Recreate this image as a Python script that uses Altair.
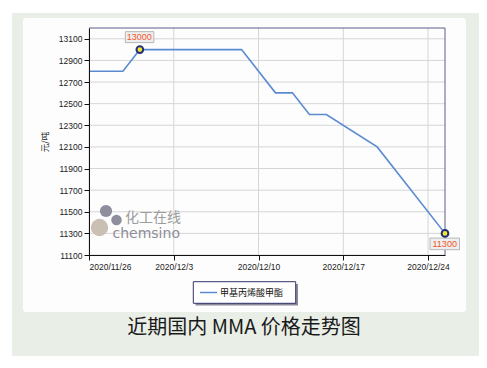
import altair as alt
import numpy as np
import pandas as pd

# ---------------- data ----------------
dates = ["2020-11-26", "2020-11-30", "2020-12-01", "2020-12-09", "2020-12-11",
         "2020-12-14", "2020-12-15", "2020-12-16", "2020-12-21", "2020-12-25"]
prices = [12800, 12800, 13000, 13000, 12600, 12600, 12400, 12400, 12100, 11300]
series_name = "甲基丙烯酸甲酯"

y_ticks = [11100, 11300, 11500, 11700, 11900, 12100, 12300, 12500, 12700, 12900, 13100]
y_domain = [11100, 13200]
x_tick_dates = ["2020-11-26", "2020-12-03", "2020-12-10", "2020-12-17", "2020-12-24"]
x_tick_labels = ["2020/11/26", "2020/12/3", "2020/12/10", "2020/12/17", "2020/12/24"]

y_title = "元/吨"
chart_title = "近期国内 MMA 价格走势图"
wm_cn = "化工在线"
wm_en = "chemsino"

# trading-day position on the axis (5 working days per week)
start = dates[0]
idx = np.busday_count(start, dates)
x_tick_idx = [int(v) for v in np.busday_count(start, x_tick_dates)]

df = pd.DataFrame({"idx": idx, "date": dates, "price": prices, "series": series_name})
hi = df.iloc[[int(np.argmax(df["price"]))]]
lo = df.iloc[[len(df) - 1]]

W, H = 356, 227
LINE = "#5a8ad2"
FONT = "Liberation Sans"
CJK = "Noto Sans CJK SC"

xs = alt.Scale(domain=[0, int(idx.max())], nice=False, zero=False)
ys = alt.Scale(domain=y_domain, nice=False, zero=False)

label_expr = " : ".join(
    f"datum.value == {v} ? '{t}'" for v, t in zip(x_tick_idx, x_tick_labels)
) + " : ''"

x_axis = alt.Axis(
    values=x_tick_idx, labelExpr=label_expr, grid=False, title=None,
    domainColor="#111", tickColor="#111", tickSize=5, labelPadding=2,
    labelFont=FONT, labelFontSize=8.5, labelColor="#222", zindex=1)
y_axis = alt.Axis(
    values=y_ticks, format="d", grid=False, title=y_title,
    titleFont=CJK, titleFontSize=8.5, titleFontWeight="normal", titleColor="#222",
    titlePadding=9, domainColor="#111", tickColor="#111", tickSize=5, labelPadding=2,
    labelFont=FONT, labelFontSize=8.5, labelColor="#222", zindex=1)

X = alt.X("idx:Q", scale=xs, axis=x_axis)
Y = alt.Y("price:Q", scale=ys, axis=y_axis)

one = pd.DataFrame({"k": [0]})


def box(x1, x2, y1, y2, **kw):
    return alt.Chart(one).mark_rect(**kw).encode(
        x=alt.value(x1), x2=alt.value(x2), y=alt.value(y1), y2=alt.value(y2))


def txt(x, y, text, **kw):
    return alt.Chart(one).mark_text(text=text, **kw).encode(x=alt.value(x), y=alt.value(y))


# page white margins around the green panel
cover_left = box(-81, -77, -20, 330, fill="white")
cover_top = box(-81, 392, -20, -15, fill="white")

# white inner panel
panel = box(-66, 377, -10, 284, fill="#fdfdfd", cornerRadius=3)

# grid
grid_x = alt.Chart(pd.DataFrame({"idx": x_tick_idx})).mark_rule(
    color="#d6d6d6", strokeWidth=1).encode(x=X)
grid_y = alt.Chart(pd.DataFrame({"price": y_ticks})).mark_rule(
    color="#d6d6d6", strokeWidth=1).encode(y=Y)

# frame top/right
frame_top = alt.Chart(one).mark_rule(color="#5c5c8e", strokeWidth=1).encode(
    x=alt.value(0), x2=alt.value(W), y=alt.value(0))
frame_right = alt.Chart(one).mark_rule(color="#5c5c8e", strokeWidth=1).encode(
    x=alt.value(W), y=alt.value(0), y2=alt.value(H))

# watermark
wm_c1 = alt.Chart(one).mark_circle(color="#c9bfb3", opacity=1, size=300).encode(
    x=alt.value(10.5), y=alt.value(199.5))
wm_c2 = alt.Chart(one).mark_circle(color="#8e8e9e", opacity=1, size=150).encode(
    x=alt.value(17), y=alt.value(183))
wm_c3 = alt.Chart(one).mark_circle(color="#8e8e9e", opacity=1, size=110).encode(
    x=alt.value(27.5), y=alt.value(192))
wm_t1 = txt(36, 190, wm_cn, font=CJK, fontSize=14, color="#9c9c9c", align="left", baseline="middle")
wm_t2 = txt(23.5, 210, wm_en, font="DejaVu Sans", fontSize=14, color="#8e8e99",
            align="left", baseline="alphabetic")

# main line with axes
line = alt.Chart(df).mark_line(color=LINE, strokeWidth=1.6).encode(x=X, y=Y)

hi_box = alt.Chart(hi).mark_rect(fill="#eeeeee", stroke="#b8b8b8", strokeWidth=1,
                                 xOffset=-14.5, x2Offset=14, yOffset=-18, y2Offset=-7).encode(
    x=X, y=Y, x2="idx:Q", y2="price:Q")
hi_txt = alt.Chart(hi).mark_text(color="#f0562a", font=FONT, fontSize=9, dy=-12.5, dx=-0.5).encode(
    x=X, y=Y, text=alt.Text("price:Q", format="d"))
lo_box = alt.Chart(lo).mark_rect(fill="#eeeeee", stroke="#b8b8b8", strokeWidth=1,
                                 xOffset=-15, x2Offset=14.5, yOffset=4.7, y2Offset=16.3).encode(
    x=X, y=Y, x2="idx:Q", y2="price:Q")
lo_txt = alt.Chart(lo).mark_text(color="#f0562a", font=FONT, fontSize=9, dy=10.5, dx=-0.3).encode(
    x=X, y=Y, text=alt.Text("price:Q", format="d"))

pts = alt.Chart(pd.concat([hi, lo])).mark_point(
    shape="circle", filled=False, fill="#f2e52a", stroke="#22307a", strokeWidth=2,
    size=45, opacity=1, fillOpacity=1).encode(x=X, y=Y)

# legend
leg_shadow = box(106.5, 209, 256, 277.5, fill="#8a8a9a")
leg_box = box(104.3, 206.7, 253.7, 275.3, fill="white", stroke="#34346c", strokeWidth=1)
leg_line = alt.Chart(one).mark_rule(color=LINE, strokeWidth=1.5).encode(
    x=alt.value(111), x2=alt.value(128), y=alt.value(264.5))
leg_txt = txt(131, 264.5, series_name, font=CJK, fontSize=9, color="#111",
              align="left", baseline="middle")

title = txt(155, 299.5, chart_title, font=CJK, fontSize=20, color="#1a1a1a",
            align="center", baseline="middle")

chart = alt.layer(
    cover_left, cover_top, panel, grid_x, grid_y, frame_top, frame_right,
    wm_c1, wm_c2, wm_c3, wm_t1, wm_t2,
    line, hi_box, hi_txt, lo_box, lo_txt, pts,
    leg_shadow, leg_box, leg_line, leg_txt, title,
).properties(
    width=W, height=H,
    padding={"left": 81, "top": 20, "right": 34, "bottom": 101},
    autosize=alt.AutoSizeParams(type="none"),
    background="#e9eee7",
).configure_view(stroke="transparent", fill="#fdfdfd")

chart.save("out.html", embed_options={"renderer": "svg", "actions": False})
